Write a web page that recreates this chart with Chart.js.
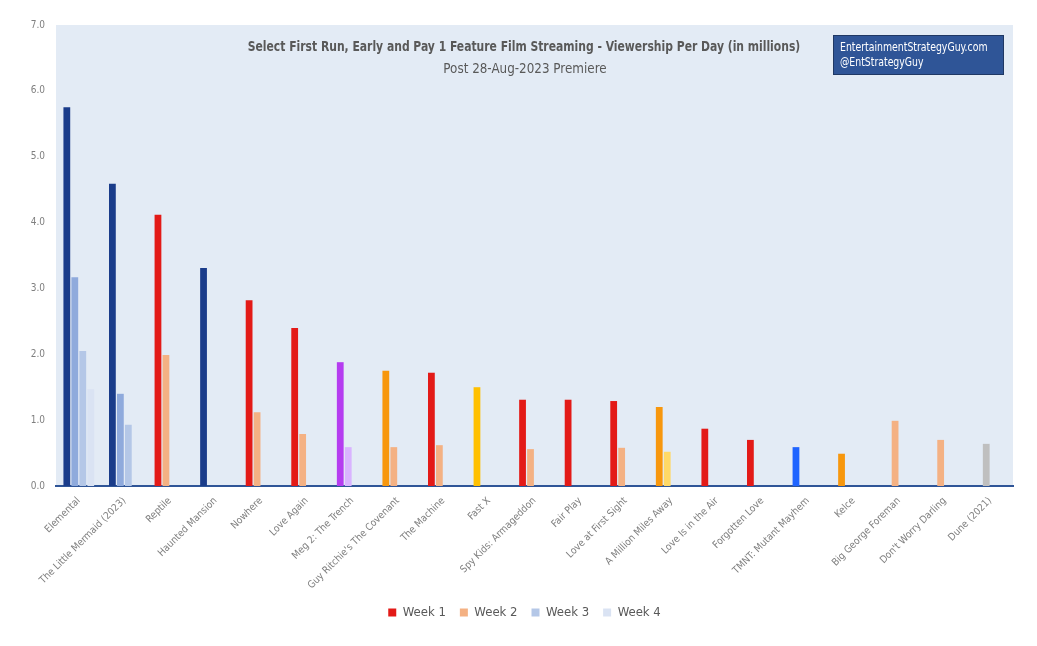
<!DOCTYPE html>
<html>
<head>
<meta charset="utf-8">
<script src="https://cdn.jsdelivr.net/npm/chart.js@4"></script>
<style>
  body { margin: 0; background: #fff; }
  #wrap { position: relative; width: 1037px; height: 646px; }
  .txt { position: absolute; font-family: "DejaVu Sans Condensed", "DejaVu Sans", Arial, sans-serif; color: #595959; white-space: nowrap; }
  #title { left: 0; width: 1048px; top: 38px; text-align: center; font-size: 14px; font-weight: bold; transform: scaleX(0.857); transform-origin: 524px 0; }
  #sub { left: 0; width: 1050px; top: 60px; text-align: center; font-size: 14px; transform: scaleX(0.95); transform-origin: 525px 0; }
  #box { position: absolute; left: 833px; top: 35px; width: 171px; height: 40px; background: #2F5597; border: 1px solid #1F3864; box-sizing: border-box; }
  #box span { position: absolute; left: 6px; color: #fff; font-family: "DejaVu Sans Condensed", "DejaVu Sans", Arial, sans-serif; font-size: 12px; transform: scaleX(0.865); transform-origin: 0 0; white-space: nowrap; }
</style>
</head>
<body>
<div id="wrap">
  <canvas id="myChart" width="1037" height="646"></canvas>
  <div class="txt" id="title">Select First Run, Early and Pay 1 Feature Film Streaming - Viewership Per Day (in millions)</div>
  <div class="txt" id="sub">Post 28-Aug-2023 Premiere</div>
  <div id="box"><span style="top:4px">EntertainmentStrategyGuy.com</span><span style="top:19px">@EntStrategyGuy</span></div>
</div>
<script>
const peliculas = ["Elemental", "The Little Mermaid (2023)", "Reptile", "Haunted Mansion", "Nowhere", "Love Again",
  "Meg 2: The Trench", "Guy Ritchie's The Covenant", "The Machine", "Fast X", "Spy Kids: Armageddon", "Fair Play",
  "Love at First Sight", "A Million Miles Away", "Love Is in the Air", "Forgotten Love", "TMNT: Mutant Mayhem",
  "Kelce", "Big George Foreman", "Don't Worry Darling", "Dune (2021)"];

const semana1 = [5.75, 4.59, 4.12, 3.31, 2.82, 2.40, 1.88, 1.75, 1.72, 1.50, 1.31, 1.31, 1.29, 1.20, 0.87, 0.70, 0.59, 0.49, null, null, null];
const semana2 = [3.17, 1.40, 1.99, null, 1.12, 0.79, 0.59, 0.59, 0.62, null, 0.56, null, 0.58, 0.52, null, null, null, null, 0.99, 0.70, 0.64];
const semana3 = [2.05, 0.93, null, null, null, null, null, null, null, null, null, null, null, null, null, null, null, null, null, null, null];
const semana4 = [1.47, null, null, null, null, null, null, null, null, null, null, null, null, null, null, null, null, null, null, null, null];

const ticksY = ["0.0", "1.0", "2.0", "3.0", "4.0", "5.0", "6.0", "7.0"];
const nombresSemana = ["Week 1", "Week 2", "Week 3", "Week 4"];

// colores por barra
const azulOsc = "#1A3C8A", rojo = "#E31A17", salmon = "#F4B183", morado = "#B53CF0", naranja = "#F7970D",
  amarillo = "#FFC000", azul = "#1F64FF";
const colores1 = [azulOsc, azulOsc, rojo, azulOsc, rojo, rojo, morado, naranja, rojo, amarillo, rojo, rojo, rojo,
  naranja, rojo, rojo, azul, naranja, rojo, rojo, rojo];
const colores2 = ["#8FAADC", "#8FAADC", salmon, salmon, salmon, salmon, "#D9B3FF", salmon, salmon, salmon, salmon,
  salmon, salmon, "#FFD966", salmon, salmon, salmon, salmon, salmon, salmon, "#BFBFBF"];
const colorLeyenda = [rojo, salmon, "#B4C7E7", "#DAE3F3"];

const fuente = '"DejaVu Sans Condensed", "DejaVu Sans", Arial, sans-serif';

const fondo = {
  id: 'fondo',
  beforeDraw(chart) {
    const a = chart.chartArea, c = chart.ctx;
    c.save();
    c.fillStyle = '#E3EBF5';
    c.fillRect(a.left, a.top, a.right - a.left, a.bottom - a.top);
    c.restore();
  }
};

const ctx = document.getElementById('myChart');

new Chart(ctx, {
  type: 'bar',
  data: {
    labels: peliculas,
    datasets: [
      { label: nombresSemana[0], data: semana1, backgroundColor: colores1 },
      { label: nombresSemana[1], data: semana2, backgroundColor: colores2 },
      { label: nombresSemana[2], data: semana3, backgroundColor: "#B4C7E7" },
      { label: nombresSemana[3], data: semana4, backgroundColor: "#DAE3F3" }
    ]
  },
  options: {
    responsive: false,
    animation: false,
    datasets: { bar: { categoryPercentage: 0.7, barPercentage: 0.85 } },
    layout: { padding: { top: 25, right: 0, bottom: 17, left: 12 } },
    plugins: {
      tooltip: { enabled: false },
      legend: {
        position: 'bottom',
        labels: {
          boxWidth: 8, boxHeight: 8, padding: 14, color: '#595959',
          font: { family: fuente, size: 13 },
          generateLabels: () => nombresSemana.map((n, i) => ({
            text: n, fillStyle: colorLeyenda[i], strokeStyle: colorLeyenda[i], lineWidth: 0,
            fontColor: '#595959', datasetIndex: i
          }))
        }
      }
    },
    scales: {
      x: {
        grid: { display: false, drawTicks: false },
        border: { color: '#2F5597', width: 2 },
        ticks: { color: '#7F7F7F', font: { family: fuente, size: 10 }, maxRotation: 45, minRotation: 45, autoSkip: false, padding: 9 },
        afterFit: s => { s.height = 106; }
      },
      y: {
        min: 0, max: 7,
        grid: { display: false, drawTicks: false },
        border: { display: false },
        ticks: { stepSize: 1, color: '#7F7F7F', font: { family: fuente, size: 10 }, padding: 11,
          callback: (v, i) => ticksY[i] },
        afterFit: s => { s.width = 44; }
      },
      // eje vacio a la derecha solo para dejar el margen
      margen: {
        position: 'right',
        grid: { display: false, drawTicks: false },
        border: { display: false },
        ticks: { display: false },
        afterFit: s => { s.width = 24; }
      }
    }
  },
  plugins: [fondo]
});
</script>
</body>
</html>
